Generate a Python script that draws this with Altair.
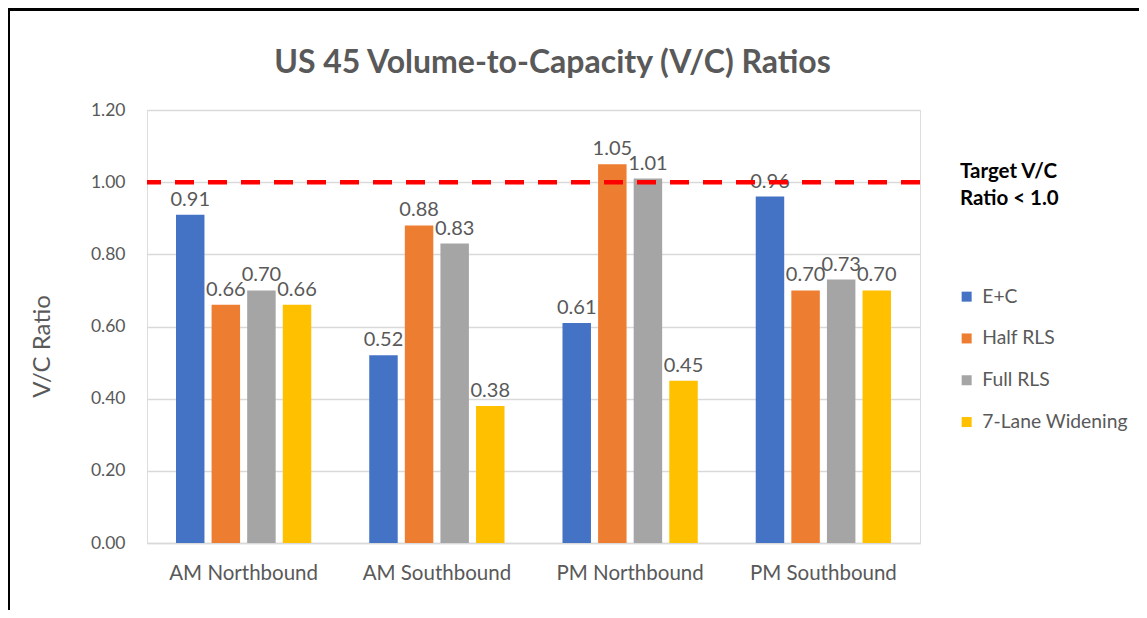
import altair as alt
import pandas as pd

categories = ["AM Northbound", "AM Southbound", "PM Northbound", "PM Southbound"]
series = ["E+C", "Half RLS", "Full RLS", "7-Lane Widening"]
values_ec = [0.91, 0.52, 0.61, 0.96]
values_half = [0.66, 0.88, 1.05, 0.70]
values_full = [0.70, 0.83, 1.01, 0.73]
values_7lane = [0.66, 0.38, 0.45, 0.70]
colors = ["#4472C4", "#ED7D31", "#A5A5A5", "#FFC000"]
target_value = [1.0]
target_lines = ["Target V/C", "Ratio < 1.0"]
y_ticks = [0, 0.2, 0.4, 0.6, 0.8, 1.0, 1.2]

rows = []
for s, vals in zip(series, [values_ec, values_half, values_full, values_7lane]):
    for c, v in zip(categories, vals):
        rows.append({"Category": c, "Series": s, "Value": v})
df = pd.DataFrame(rows)
target_df = pd.DataFrame({"y": target_value})

FONT = "Lato"
GREY = "#595959"

W, H = 773, 433
PAD_L, PAD_T = 139, 102
TOTAL_W, TOTAL_H = 1131, 602

x_enc = alt.X("Category:N", sort=categories,
              scale=alt.Scale(paddingInner=0.3, paddingOuter=0.15),
              axis=alt.Axis(title=None, labelAngle=0, labelFontSize=20.5,
                            labelColor=GREY, labelFont=FONT, labelPadding=20,
                            ticks=False, domainColor="#D9D9D9", domainWidth=1.5,
                            grid=False))
xo_enc = alt.XOffset("Series:N", sort=series,
                     scale=alt.Scale(paddingInner=0.2, paddingOuter=0))
y_enc = alt.Y("Value:Q", scale=alt.Scale(domain=[0, 1.2], nice=False),
              axis=alt.Axis(values=y_ticks, format=".2f", title="V/C Ratio",
                            titleFontSize=24, titleColor=GREY, titleFont=FONT,
                            titleFontWeight="normal", titleX=-105, titleY=236,
                            titleBaseline="middle", titleAngle=-90,
                            labelFontSize=17.5, labelColor=GREY, labelFont=FONT,
                            labelPadding=22, ticks=False, domain=False,
                            gridColor="#D9D9D9", gridWidth=1.5))

bars = alt.Chart(df).mark_bar().encode(
    x=x_enc,
    xOffset=xo_enc,
    y=y_enc,
    color=alt.Color("Series:N", sort=series,
                    scale=alt.Scale(domain=series, range=colors),
                    legend=alt.Legend(title=None, orient="none", legendX=810,
                                      legendY=177, symbolType="square",
                                      symbolSize=100, symbolStrokeWidth=0,
                                      labelFontSize=19.3, labelColor=GREY,
                                      labelFont=FONT, rowPadding=21.8,
                                      labelOffset=6)),
)

labels = alt.Chart(df).mark_text(
    baseline="bottom", dy=-5, fontSize=20, color=GREY, font=FONT
).encode(
    x=alt.X("Category:N", sort=categories),
    xOffset=alt.XOffset("Series:N", sort=series),
    y=alt.Y("Value:Q"),
    text=alt.Text("Value:Q", format=".2f"),
)

target = alt.Chart(target_df).mark_rule(
    color="#FF0000", strokeWidth=4.5, strokeDash=[19, 14]
).encode(y=alt.Y("y:Q"))

target_text = alt.Chart(pd.DataFrame({"t": ["\n".join(target_lines)]})).mark_text(
    align="left", baseline="middle", fontSize=20.5, fontWeight="bold",
    color="#000000", font=FONT, lineBreak="\n", lineHeight=27
).encode(x=alt.value(813), y=alt.value(62), text="t:N")

border_top = alt.Chart(target_df).mark_rule(color="#000000", strokeWidth=3).encode(
    x=alt.value(-PAD_L), x2=alt.value(TOTAL_W - PAD_L), y=alt.value(-PAD_T + 1.5))
border_left = alt.Chart(target_df).mark_rule(color="#000000", strokeWidth=2).encode(
    x=alt.value(-PAD_L + 1), y=alt.value(-PAD_T), y2=alt.value(TOTAL_H - PAD_T))

chart = alt.layer(bars, labels, target, target_text, border_top, border_left).properties(
    width=W, height=H,
    title=alt.TitleParams("US 45 Volume-to-Capacity (V/C) Ratios", fontSize=32,
                          font=FONT, fontWeight="bold", color=GREY,
                          anchor="middle", frame="group", dx=19, offset=-72.5),
    autosize=alt.AutoSizeParams(type="none"),
    padding={"left": PAD_L, "top": PAD_T, "right": TOTAL_W - PAD_L - W,
             "bottom": TOTAL_H - PAD_T - H},
).configure_view(stroke=None).configure(background="white")

chart.save("out.html", embed_options={"renderer": "svg", "actions": False})
